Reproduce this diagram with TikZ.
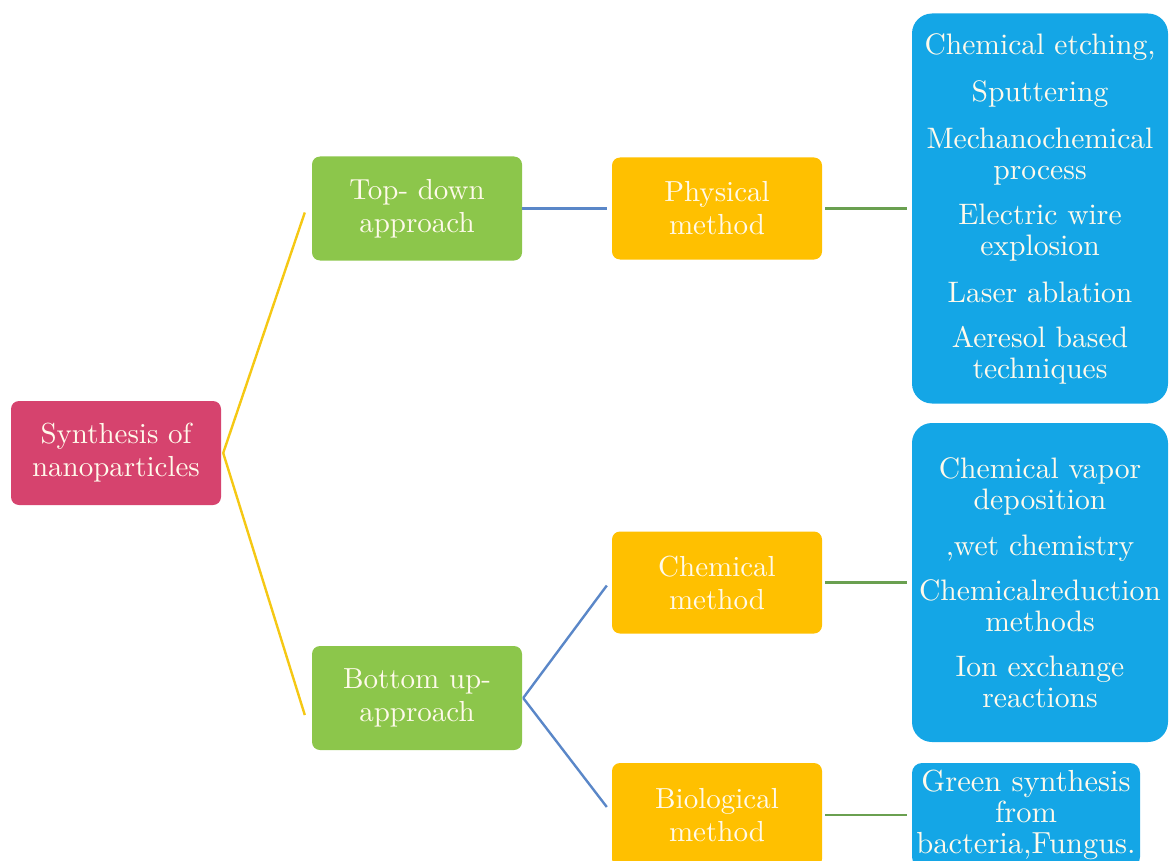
\documentclass[tikz,border=0pt]{standalone}
\usepackage{fontspec}
\setmainfont{lmroman10-regular.otf}
\definecolor{rootc}{RGB}{214,67,110}
\definecolor{greenc}{RGB}{140,198,75}
\definecolor{orangec}{RGB}{255,192,0}
\definecolor{bluec}{RGB}{20,166,230}
\definecolor{yline}{RGB}{245,200,20}
\definecolor{bline}{RGB}{90,135,200}
\definecolor{gline}{RGB}{106,160,80}
\definecolor{txt}{RGB}{255,250,235}
\tikzset{
  box/.style={rounded corners=8pt, text=txt, align=center, inner sep=0pt,
    minimum width=210pt, font=\fontsize{29}{33}\selectfont},
  rootbox/.style={box, fill=rootc, minimum height=104pt},
  lvlone/.style={box, fill=greenc, minimum height=104pt},
  lvltwo/.style={box, fill=orangec, minimum height=102pt},
  leaf/.style={rounded corners=20pt, fill=bluec, text=txt, align=center, inner sep=0pt,
    font=\fontsize{29.6}{31}\selectfont},
  conn/.style={line width=2.4pt}
}
\begin{document}
\begin{tikzpicture}[x=1pt,y=-1pt]
\useasboundingbox (0,0) rectangle (1169,861);
\node[rootbox] (root) at (116,453) {Synthesis of\\nanoparticles};
\node[lvlone] (td) at (417,208.5) {Top- down\\approach};
\node[lvlone] (bu) at (417,698) {Bottom up-\\approach};
\node[lvltwo] (phy) at (717,208.5) {Physical\\method};
\node[lvltwo] (chem) at (717,582.5) {Chemical\\method};
\node[lvltwo, minimum height=104pt] (bio) at (717,815) {Biological\\method};
\node[leaf, minimum width=256pt, minimum height=390pt] (l1) at (1040,208.5)
  {Chemical etching,\\[16pt]Sputtering\\[16pt]Mechanochemical\\process\\[14pt]Electric wire\\explosion\\[16pt]Laser ablation\\[14pt]Aeresol based\\techniques};
\node[leaf, minimum width=256pt, minimum height=319pt] (l2) at (1040,582.5)
  {Chemical vapor\\deposition\\[15pt],wet chemistry\\[14pt]Chemicalreduction\\methods\\[14pt]Ion exchange\\reactions};
\node[leaf, rounded corners=10pt, minimum width=228pt, minimum height=104pt,
  font=\fontsize{30.5}{31}\selectfont] (l3) at (1026,815)
  {Green synthesis\\from\\bacteria,Fungus.};
\draw[conn, yline] ([xshift=2pt]root.east) -- ([xshift=-7pt,yshift=-4pt]td.west);
\draw[conn, yline] ([xshift=2pt]root.east) -- ([xshift=-7pt,yshift=-17pt]bu.west);
\draw[conn, bline] (td.east) -- ([xshift=-5pt]phy.west);
\draw[conn, bline] ([xshift=1pt]bu.east) -- ([xshift=-5pt,yshift=-3pt]chem.west);
\draw[conn, bline] ([xshift=1pt]bu.east) -- ([xshift=-5pt,yshift=8pt]bio.west);
\draw[conn, gline] ([xshift=3pt]phy.east) -- ([xshift=-5pt]l1.west);
\draw[conn, gline] ([xshift=3pt]chem.east) -- ([xshift=-5pt]l2.west);
\draw[conn, gline] ([xshift=3pt]bio.east) -- ([xshift=-5pt]l3.west);
\end{tikzpicture}
\end{document}
